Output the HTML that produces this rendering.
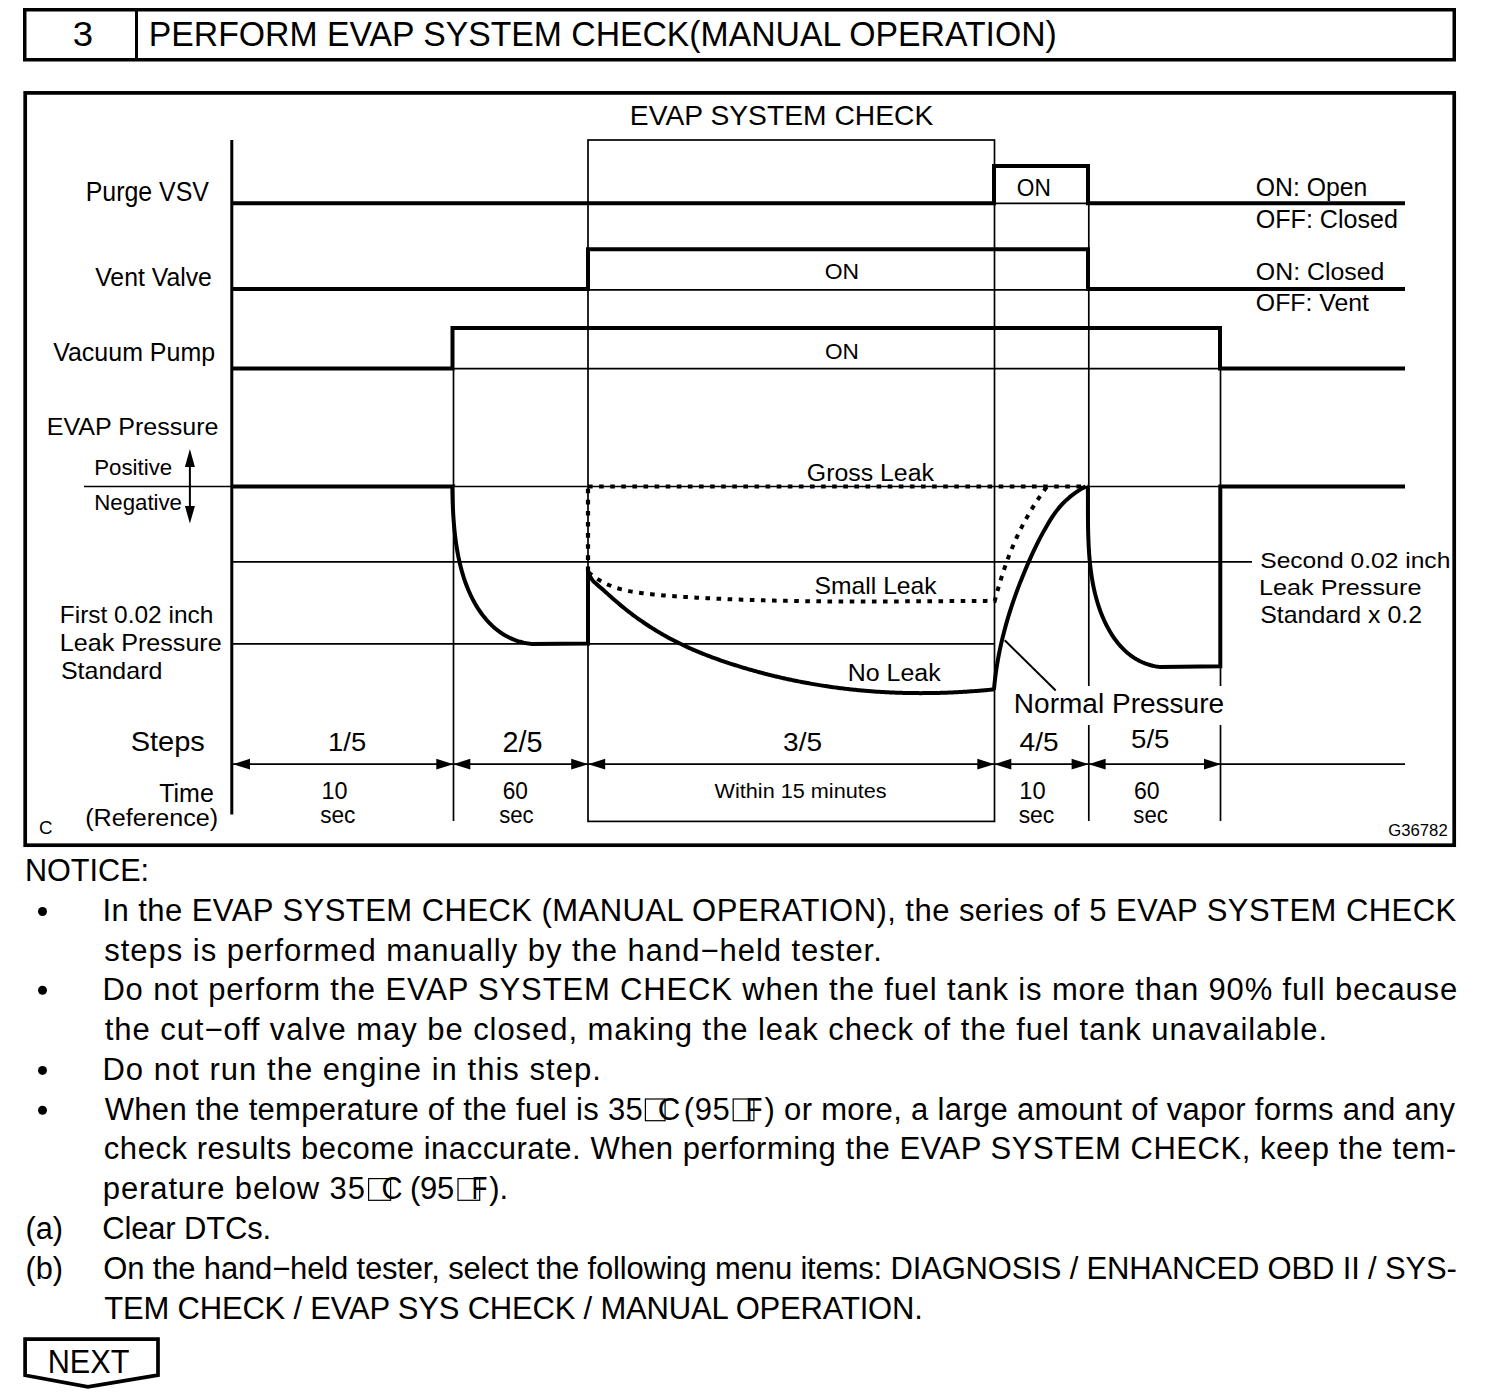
<!DOCTYPE html>
<html><head><meta charset="utf-8"><style>
html,body{margin:0;padding:0;background:#fff;width:1504px;height:1398px;overflow:hidden}
svg{position:absolute;left:0;top:0}
text{font-family:"Liberation Sans",sans-serif;fill:#000}
</style></head><body>
<svg width="1504" height="1398" viewBox="0 0 1504 1398">
<g stroke="#000" fill="none" stroke-linecap="butt">
<rect x="24.75" y="9.75" width="1429.5" height="50" stroke-width="3.5" fill="none"/>
<line x1="136.5" y1="9" x2="136.5" y2="60" stroke-width="3"/>
<rect x="25.2" y="92.9" width="1429" height="752.3" stroke-width="3.7" fill="none"/>
<line x1="231.8" y1="140" x2="231.8" y2="814.5" stroke-width="3"/>
<line x1="994" y1="203.3" x2="1088" y2="203.3" stroke-width="1.7"/>
<line x1="588" y1="289.8" x2="1088" y2="289.8" stroke-width="1.7"/>
<line x1="453" y1="368.6" x2="1220" y2="368.6" stroke-width="1.7"/>
<rect x="588" y="140" width="406.5" height="681.4" stroke-width="1.7" fill="none"/>
<line x1="453.5" y1="368" x2="453.5" y2="821" stroke-width="1.7"/>
<line x1="1088.8" y1="203" x2="1088.8" y2="686" stroke-width="1.7"/>
<line x1="1088.8" y1="725" x2="1088.8" y2="821" stroke-width="1.7"/>
<line x1="1220.5" y1="368" x2="1220.5" y2="686" stroke-width="1.7"/>
<line x1="1220.5" y1="725" x2="1220.5" y2="821" stroke-width="1.7"/>
<polyline points="233,203.3 994,203.3 994,166 1088,166 1088,203.3 1405,203.3" stroke-width="4" fill="none" stroke-linejoin="miter"/>
<polyline points="233,289 588,289 588,249.2 1088,249.2 1088,289 1405,289" stroke-width="4" fill="none"/>
<polyline points="233,368.6 452.5,368.6 452.5,328 1220,328 1220,368.6 1405,368.6" stroke-width="4" fill="none"/>
<line x1="84" y1="486.5" x2="1220" y2="486.5" stroke-width="1.7"/>
<line x1="233" y1="561.8" x2="1252" y2="561.8" stroke-width="1.7"/>
<line x1="233" y1="643.8" x2="994" y2="643.8" stroke-width="1.7"/>
<path d="M 233 486.5 L 452.4 486.5 L 452.35 486.61 L 452.37 488.10 L 452.39 489.60 L 452.42 491.12 L 452.44 492.64 L 452.47 494.16 L 452.51 495.70 L 452.55 497.25 L 452.59 498.80 L 452.63 500.36 L 452.68 501.93 L 452.74 503.51 L 452.80 505.09 L 452.86 506.68 L 452.93 508.27 L 453.00 509.88 L 453.09 511.48 L 453.17 513.09 L 453.26 514.71 L 453.36 516.33 L 453.47 517.96 L 453.58 519.59 L 453.70 521.22 L 453.83 522.86 L 453.96 524.50 L 454.10 526.14 L 454.25 527.78 L 454.41 529.43 L 454.58 531.08 L 454.75 532.73 L 454.93 534.38 L 455.13 536.03 L 455.33 537.69 L 455.54 539.34 L 455.76 540.99 L 455.99 542.65 L 456.23 544.30 L 456.48 545.95 L 456.74 547.60 L 457.01 549.25 L 457.30 550.90 L 457.59 552.54 L 457.90 554.19 L 458.21 555.82 L 458.54 557.46 L 458.89 559.09 L 459.24 560.72 L 459.61 562.35 L 459.99 563.97 L 460.38 565.59 L 460.78 567.20 L 461.20 568.81 L 461.63 570.41 L 462.08 572.00 L 462.54 573.59 L 463.02 575.17 L 463.51 576.75 L 464.01 578.32 L 464.53 579.88 L 465.06 581.44 L 465.61 582.98 L 466.18 584.52 L 466.76 586.05 L 467.36 587.57 L 467.97 589.08 L 468.60 590.58 L 469.25 592.07 L 469.91 593.55 L 470.59 595.03 L 471.29 596.49 L 472.01 597.94 L 472.74 599.37 L 473.49 600.80 L 474.26 602.21 L 475.05 603.62 L 475.86 605.01 L 476.69 606.38 L 477.53 607.75 L 478.40 609.09 L 479.28 610.43 L 480.19 611.75 L 481.11 613.05 L 482.06 614.33 L 483.02 615.60 L 484.00 616.85 L 485.01 618.08 L 486.03 619.29 L 487.08 620.49 L 488.14 621.66 L 489.23 622.80 L 490.34 623.93 L 491.47 625.04 L 492.62 626.12 L 493.79 627.17 L 494.99 628.20 L 496.20 629.21 L 497.44 630.19 L 498.70 631.14 L 499.98 632.07 L 501.29 632.97 L 502.62 633.84 L 503.97 634.68 L 505.34 635.49 L 506.74 636.27 L 508.16 637.01 L 509.60 637.73 L 511.07 638.41 L 512.56 639.06 L 514.07 639.68 L 515.61 640.26 L 517.17 640.81 L 518.76 641.32 L 520.37 641.79 L 522.00 642.23 L 523.66 642.63 L 525.35 642.99 L 527.06 643.31 L 528.79 643.59 L 530.55 643.83 L 532.34 644.03 L 588 643.4 L 588 571" stroke-width="4" fill="none"/>
<path d="M 588.40 571.93 L 589.90 575.91 L 591.40 578.77 L 592.90 580.80 L 594.40 582.30 L 595.90 583.58 L 597.40 584.86 L 598.90 586.16 L 600.40 587.46 L 601.90 588.78 L 603.40 590.11 L 604.90 591.45 L 606.40 592.79 L 607.90 594.13 L 609.40 595.47 L 610.90 596.81 L 612.40 598.14 L 613.90 599.46 L 615.40 600.77 L 616.90 602.07 L 618.40 603.35 L 619.90 604.62 L 621.40 605.86 L 622.90 607.10 L 624.40 608.31 L 625.90 609.51 L 627.40 610.70 L 628.90 611.87 L 630.40 613.02 L 631.90 614.16 L 633.40 615.28 L 634.90 616.39 L 636.40 617.49 L 637.90 618.57 L 639.40 619.63 L 640.90 620.69 L 642.40 621.72 L 643.90 622.75 L 645.40 623.76 L 646.90 624.75 L 648.40 625.74 L 649.90 626.71 L 651.40 627.66 L 652.90 628.61 L 654.40 629.54 L 655.90 630.46 L 657.40 631.37 L 658.90 632.26 L 660.40 633.14 L 661.90 634.01 L 663.40 634.87 L 664.90 635.72 L 666.40 636.55 L 667.90 637.38 L 669.40 638.19 L 670.90 638.99 L 672.40 639.78 L 673.90 640.56 L 675.40 641.33 L 676.90 642.09 L 678.40 642.84 L 679.90 643.58 L 681.40 644.31 L 682.90 645.03 L 684.40 645.73 L 685.90 646.43 L 687.40 647.13 L 688.90 647.81 L 690.40 648.48 L 691.90 649.14 L 693.40 649.80 L 694.90 650.44 L 696.40 651.08 L 697.90 651.71 L 699.40 652.33 L 700.90 652.95 L 702.40 653.55 L 703.90 654.15 L 705.40 654.74 L 706.90 655.33 L 708.40 655.90 L 709.90 656.47 L 711.40 657.04 L 712.90 657.59 L 714.40 658.14 L 715.90 658.69 L 717.40 659.22 L 718.90 659.75 L 720.40 660.28 L 721.90 660.80 L 723.40 661.31 L 724.90 661.82 L 726.40 662.32 L 727.90 662.82 L 729.40 663.31 L 730.90 663.80 L 732.40 664.29 L 733.90 664.77 L 735.40 665.24 L 736.90 665.71 L 738.40 666.18 L 739.90 666.64 L 741.40 667.09 L 742.90 667.55 L 744.40 668.00 L 745.90 668.44 L 747.40 668.88 L 748.90 669.32 L 750.40 669.75 L 751.90 670.18 L 753.40 670.60 L 754.90 671.02 L 756.40 671.43 L 757.90 671.84 L 759.40 672.25 L 760.90 672.65 L 762.40 673.05 L 763.90 673.44 L 765.40 673.83 L 766.90 674.22 L 768.40 674.60 L 769.90 674.98 L 771.40 675.35 L 772.90 675.72 L 774.40 676.08 L 775.90 676.44 L 777.40 676.80 L 778.90 677.15 L 780.40 677.50 L 781.90 677.84 L 783.40 678.18 L 784.90 678.52 L 786.40 678.85 L 787.90 679.18 L 789.40 679.50 L 790.90 679.82 L 792.40 680.14 L 793.90 680.45 L 795.40 680.75 L 796.90 681.06 L 798.40 681.36 L 799.90 681.65 L 801.40 681.95 L 802.90 682.23 L 804.40 682.52 L 805.90 682.80 L 807.40 683.07 L 808.90 683.34 L 810.40 683.61 L 811.90 683.88 L 813.40 684.14 L 814.90 684.39 L 816.40 684.64 L 817.90 684.89 L 819.40 685.14 L 820.90 685.38 L 822.40 685.61 L 823.90 685.85 L 825.40 686.08 L 826.90 686.30 L 828.40 686.52 L 829.90 686.74 L 831.40 686.95 L 832.90 687.16 L 834.40 687.37 L 835.90 687.57 L 837.40 687.77 L 838.90 687.97 L 840.40 688.16 L 841.90 688.34 L 843.40 688.53 L 844.90 688.71 L 846.40 688.88 L 847.90 689.06 L 849.40 689.23 L 850.90 689.39 L 852.40 689.55 L 853.90 689.71 L 855.40 689.86 L 856.90 690.01 L 858.40 690.16 L 859.90 690.30 L 861.40 690.44 L 862.90 690.58 L 864.40 690.71 L 865.90 690.84 L 867.40 690.96 L 868.90 691.09 L 870.40 691.20 L 871.90 691.32 L 873.40 691.43 L 874.90 691.53 L 876.40 691.64 L 877.90 691.74 L 879.40 691.83 L 880.90 691.93 L 882.40 692.02 L 883.90 692.10 L 885.40 692.18 L 886.90 692.26 L 888.40 692.34 L 889.90 692.41 L 891.40 692.48 L 892.90 692.54 L 894.40 692.60 L 895.90 692.66 L 897.40 692.72 L 898.90 692.77 L 900.40 692.81 L 901.90 692.86 L 903.40 692.90 L 904.90 692.94 L 906.40 692.97 L 907.90 693.00 L 909.40 693.03 L 910.90 693.05 L 912.40 693.07 L 913.90 693.09 L 915.40 693.10 L 916.90 693.11 L 918.40 693.12 L 919.90 693.13 L 921.40 693.13 L 922.90 693.12 L 924.40 693.12 L 925.90 693.11 L 927.40 693.10 L 928.90 693.08 L 930.40 693.06 L 931.90 693.04 L 933.40 693.01 L 934.90 692.98 L 936.40 692.95 L 937.90 692.92 L 939.40 692.88 L 940.90 692.84 L 942.40 692.79 L 943.90 692.74 L 945.40 692.69 L 946.90 692.64 L 948.40 692.58 L 949.90 692.52 L 951.40 692.46 L 952.90 692.39 L 954.40 692.32 L 955.90 692.25 L 957.40 692.17 L 958.90 692.09 L 960.40 692.01 L 961.90 691.92 L 963.40 691.83 L 964.90 691.74 L 966.40 691.65 L 967.90 691.55 L 969.40 691.45 L 970.90 691.34 L 972.40 691.24 L 973.90 691.13 L 975.40 691.01 L 976.90 690.90 L 978.40 690.78 L 979.90 690.66 L 981.40 690.53 L 982.90 690.41 L 984.40 690.28 L 985.90 690.14 L 987.40 690.00 L 988.90 689.87 L 990.40 689.72 L 991.90 689.58 L 993.40 689.43 L 993.90 689.38 L 993.93 689.90 L 994.02 688.90 L 994.16 687.40 L 994.30 685.90 L 994.45 684.40 L 994.60 682.90 L 994.77 681.40 L 994.94 679.90 L 995.12 678.40 L 995.30 676.90 L 995.49 675.40 L 995.69 673.90 L 995.90 672.40 L 996.11 670.90 L 996.33 669.40 L 996.56 667.90 L 996.80 666.40 L 997.04 664.90 L 997.29 663.40 L 997.54 661.90 L 997.80 660.40 L 998.07 658.90 L 998.35 657.40 L 998.63 655.90 L 998.92 654.40 L 999.22 652.90 L 999.52 651.40 L 999.83 649.90 L 1000.14 648.40 L 1000.46 646.90 L 1000.79 645.40 L 1001.13 643.90 L 1001.47 642.40 L 1001.82 640.90 L 1002.18 639.40 L 1002.54 637.90 L 1002.90 636.40 L 1003.28 634.90 L 1003.66 633.40 L 1004.05 631.90 L 1004.44 630.40 L 1004.84 628.90 L 1005.25 627.40 L 1005.66 625.90 L 1006.08 624.40 L 1006.50 622.90 L 1006.93 621.40 L 1007.37 619.90 L 1007.81 618.40 L 1008.26 616.90 L 1008.72 615.40 L 1009.18 613.90 L 1009.65 612.40 L 1010.12 610.90 L 1010.60 609.40 L 1011.08 607.90 L 1011.58 606.40 L 1012.07 604.90 L 1012.58 603.40 L 1013.09 601.90 L 1013.60 600.40 L 1014.12 598.90 L 1014.65 597.40 L 1015.18 595.90 L 1015.72 594.40 L 1016.26 592.90 L 1016.81 591.40 L 1017.36 589.90 L 1017.92 588.40 L 1018.49 586.90 L 1019.06 585.40 L 1019.64 583.90 L 1020.22 582.40 L 1020.81 580.90 L 1021.40 579.40 L 1022.00 577.90 L 1022.60 576.40 L 1023.21 574.90 L 1023.83 573.40 L 1024.45 571.90 L 1025.07 570.40 L 1025.71 568.90 L 1026.34 567.40 L 1026.98 565.90 L 1027.63 564.40 L 1028.28 562.90 L 1028.94 561.40 L 1029.60 559.90 L 1030.27 558.40 L 1030.94 556.90 L 1031.63 555.40 L 1032.31 553.90 L 1033.01 552.40 L 1033.71 550.90 L 1034.42 549.40 L 1035.14 547.90 L 1035.87 546.40 L 1036.60 544.90 L 1037.34 543.40 L 1038.10 541.90 L 1038.86 540.40 L 1039.63 538.90 L 1040.41 537.40 L 1041.21 535.90 L 1042.01 534.40 L 1042.82 532.90 L 1043.65 531.40 L 1044.48 529.90 L 1045.33 528.40 L 1046.19 526.90 L 1047.06 525.40 L 1047.94 523.90 L 1048.84 522.40 L 1049.75 520.90 L 1050.68 519.40 L 1051.64 517.90 L 1052.62 516.40 L 1053.63 514.90 L 1054.68 513.40 L 1055.77 511.90 L 1056.91 510.40 L 1058.09 508.90 L 1059.33 507.40 L 1060.63 505.90 L 1062.00 504.40 L 1063.43 502.90 L 1064.94 501.40 L 1066.53 499.90 L 1068.21 498.40 L 1069.98 496.90 L 1071.86 495.40 L 1073.85 493.90 L 1075.96 492.40 L 1078.19 490.90 L 1080.55 489.40 L 1083.05 487.90 L 1085.70 486.40" stroke-width="4" fill="none"/>
<path d="M 1087.84 486.18 L 1087.86 487.88 L 1087.88 489.57 L 1087.89 491.28 L 1087.90 492.99 L 1087.91 494.71 L 1087.91 496.44 L 1087.92 498.17 L 1087.92 499.91 L 1087.92 501.66 L 1087.92 503.41 L 1087.93 505.16 L 1087.93 506.92 L 1087.93 508.69 L 1087.93 510.46 L 1087.94 512.23 L 1087.94 514.01 L 1087.95 515.79 L 1087.96 517.58 L 1087.97 519.37 L 1087.99 521.16 L 1088.01 522.96 L 1088.03 524.76 L 1088.06 526.56 L 1088.09 528.36 L 1088.12 530.17 L 1088.16 531.98 L 1088.21 533.79 L 1088.26 535.60 L 1088.32 537.41 L 1088.38 539.23 L 1088.45 541.04 L 1088.53 542.86 L 1088.61 544.68 L 1088.70 546.49 L 1088.80 548.31 L 1088.91 550.13 L 1089.03 551.95 L 1089.15 553.76 L 1089.29 555.58 L 1089.44 557.39 L 1089.59 559.21 L 1089.76 561.02 L 1089.93 562.83 L 1090.12 564.64 L 1090.32 566.44 L 1090.53 568.25 L 1090.76 570.05 L 1090.99 571.85 L 1091.24 573.64 L 1091.50 575.43 L 1091.78 577.22 L 1092.07 579.01 L 1092.37 580.79 L 1092.69 582.57 L 1093.02 584.34 L 1093.37 586.11 L 1093.74 587.87 L 1094.12 589.63 L 1094.51 591.38 L 1094.93 593.13 L 1095.36 594.87 L 1095.80 596.61 L 1096.27 598.34 L 1096.75 600.06 L 1097.25 601.78 L 1097.77 603.49 L 1098.31 605.20 L 1098.87 606.89 L 1099.45 608.58 L 1100.04 610.27 L 1100.66 611.94 L 1101.30 613.61 L 1101.96 615.27 L 1102.64 616.91 L 1103.35 618.56 L 1104.07 620.19 L 1104.82 621.81 L 1105.59 623.42 L 1106.38 625.02 L 1107.20 626.61 L 1108.04 628.18 L 1108.91 629.74 L 1109.79 631.29 L 1110.71 632.81 L 1111.64 634.32 L 1112.61 635.81 L 1113.60 637.28 L 1114.61 638.73 L 1115.65 640.15 L 1116.71 641.55 L 1117.80 642.93 L 1118.92 644.28 L 1120.07 645.60 L 1121.24 646.90 L 1122.44 648.17 L 1123.67 649.40 L 1124.93 650.61 L 1126.21 651.78 L 1127.52 652.92 L 1128.86 654.03 L 1130.24 655.10 L 1131.64 656.13 L 1133.07 657.12 L 1134.53 658.08 L 1136.02 659.00 L 1137.54 659.87 L 1139.09 660.71 L 1140.68 661.50 L 1142.29 662.24 L 1143.94 662.95 L 1145.62 663.60 L 1147.33 664.21 L 1149.07 664.76 L 1150.85 665.27 L 1152.66 665.73 L 1154.50 666.14 L 1156.38 666.49 L 1158.29 666.79 L 1160.24 667.03 L 1220.3 666.2 L 1220.3 486.5 L 1405 486.5" stroke-width="4" fill="none"/>
<line x1="588" y1="571" x2="588" y2="486.5" stroke-width="4.2" stroke-dasharray="4.6 6.5"/>
<line x1="588" y1="486.5" x2="1088" y2="486.5" stroke-width="4.2" stroke-dasharray="4.6 6.5"/>
<path d="M 588.40 572.26 L 589.90 573.49 L 591.40 574.68 L 592.90 575.81 L 594.40 576.89 L 595.90 577.92 L 597.40 578.90 L 598.90 579.84 L 600.40 580.74 L 601.90 581.59 L 603.40 582.40 L 604.90 583.17 L 606.40 583.90 L 607.90 584.59 L 609.40 585.25 L 610.90 585.87 L 612.40 586.46 L 613.90 587.02 L 615.40 587.54 L 616.90 588.04 L 618.40 588.50 L 619.90 588.94 L 621.40 589.36 L 622.90 589.75 L 624.40 590.11 L 625.90 590.46 L 627.40 590.78 L 628.90 591.09 L 630.40 591.38 L 631.90 591.65 L 633.40 591.90 L 634.90 592.14 L 636.40 592.37 L 637.90 592.59 L 639.40 592.80 L 640.90 593.00 L 642.40 593.19 L 643.90 593.38 L 645.40 593.56 L 646.90 593.74 L 648.40 593.91 L 649.90 594.08 L 651.40 594.24 L 652.90 594.40 L 654.40 594.55 L 655.90 594.70 L 657.40 594.84 L 658.90 594.99 L 660.40 595.12 L 661.90 595.26 L 663.40 595.39 L 664.90 595.51 L 666.40 595.64 L 667.90 595.76 L 669.40 595.87 L 670.90 595.99 L 672.40 596.10 L 673.90 596.21 L 675.40 596.32 L 676.90 596.42 L 678.40 596.52 L 679.90 596.62 L 681.40 596.72 L 682.90 596.82 L 684.40 596.91 L 685.90 597.01 L 687.40 597.10 L 688.90 597.19 L 690.40 597.28 L 691.90 597.37 L 693.40 597.45 L 694.90 597.54 L 696.40 597.63 L 697.90 597.71 L 699.40 597.79 L 700.90 597.87 L 702.40 597.96 L 703.90 598.03 L 705.40 598.11 L 706.90 598.19 L 708.40 598.27 L 709.90 598.34 L 711.40 598.41 L 712.90 598.49 L 714.40 598.56 L 715.90 598.63 L 717.40 598.70 L 718.90 598.77 L 720.40 598.84 L 721.90 598.90 L 723.40 598.97 L 724.90 599.03 L 726.40 599.09 L 727.90 599.16 L 729.40 599.22 L 730.90 599.28 L 732.40 599.34 L 733.90 599.40 L 735.40 599.45 L 736.90 599.51 L 738.40 599.57 L 739.90 599.62 L 741.40 599.67 L 742.90 599.73 L 744.40 599.78 L 745.90 599.83 L 747.40 599.88 L 748.90 599.93 L 750.40 599.97 L 751.90 600.02 L 753.40 600.07 L 754.90 600.11 L 756.40 600.16 L 757.90 600.20 L 759.40 600.24 L 760.90 600.28 L 762.40 600.33 L 763.90 600.37 L 765.40 600.40 L 766.90 600.44 L 768.40 600.48 L 769.90 600.52 L 771.40 600.55 L 772.90 600.59 L 774.40 600.62 L 775.90 600.66 L 777.40 600.69 L 778.90 600.72 L 780.40 600.75 L 781.90 600.78 L 783.40 600.81 L 784.90 600.84 L 786.40 600.87 L 787.90 600.90 L 789.40 600.92 L 790.90 600.95 L 792.40 600.97 L 793.90 601.00 L 795.40 601.02 L 796.90 601.05 L 798.40 601.07 L 799.90 601.09 L 801.40 601.11 L 802.90 601.13 L 804.40 601.15 L 805.90 601.17 L 807.40 601.19 L 808.90 601.21 L 810.40 601.22 L 811.90 601.24 L 813.40 601.26 L 814.90 601.27 L 816.40 601.29 L 817.90 601.30 L 819.40 601.32 L 820.90 601.33 L 822.40 601.34 L 823.90 601.35 L 825.40 601.36 L 826.90 601.38 L 828.40 601.39 L 829.90 601.40 L 831.40 601.40 L 832.90 601.41 L 834.40 601.42 L 835.90 601.43 L 837.40 601.44 L 838.90 601.44 L 840.40 601.45 L 841.90 601.46 L 843.40 601.46 L 844.90 601.47 L 846.40 601.47 L 847.90 601.47 L 849.40 601.48 L 850.90 601.48 L 852.40 601.48 L 853.90 601.49 L 855.40 601.49 L 856.90 601.49 L 858.40 601.49 L 859.90 601.49 L 861.40 601.49 L 862.90 601.49 L 864.40 601.49 L 865.90 601.49 L 867.40 601.49 L 868.90 601.49 L 870.40 601.48 L 871.90 601.48 L 873.40 601.48 L 874.90 601.48 L 876.40 601.47 L 877.90 601.47 L 879.40 601.47 L 880.90 601.46 L 882.40 601.46 L 883.90 601.45 L 885.40 601.45 L 886.90 601.44 L 888.40 601.44 L 889.90 601.43 L 891.40 601.43 L 892.90 601.42 L 894.40 601.41 L 895.90 601.41 L 897.40 601.40 L 898.90 601.39 L 900.40 601.39 L 901.90 601.38 L 903.40 601.37 L 904.90 601.36 L 906.40 601.36 L 907.90 601.35 L 909.40 601.34 L 910.90 601.33 L 912.40 601.32 L 913.90 601.31 L 915.40 601.30 L 916.90 601.30 L 918.40 601.29 L 919.90 601.28 L 921.40 601.27 L 922.90 601.26 L 924.40 601.25 L 925.90 601.24 L 927.40 601.23 L 928.90 601.22 L 930.40 601.21 L 931.90 601.20 L 933.40 601.19 L 934.90 601.18 L 936.40 601.17 L 937.90 601.16 L 939.40 601.15 L 940.90 601.14 L 942.40 601.13 L 943.90 601.12 L 945.40 601.11 L 946.90 601.10 L 948.40 601.09 L 949.90 601.08 L 951.40 601.07 L 952.90 601.06 L 954.40 601.05 L 955.90 601.04 L 957.40 601.03 L 958.90 601.02 L 960.40 601.02 L 961.90 601.01 L 963.40 601.00 L 964.90 600.99 L 966.40 600.98 L 967.90 600.97 L 969.40 600.96 L 970.90 600.95 L 972.40 600.94 L 973.90 600.94 L 975.40 600.93 L 976.90 600.92 L 978.40 600.91 L 979.90 600.90 L 981.40 600.90 L 982.90 600.89 L 984.40 600.88 L 985.90 600.88 L 987.40 600.87 L 988.90 600.86 L 990.40 600.86 L 991.90 600.85 L 993.40 600.85 L 994.00 600.84 L 994.71 601.00 L 994.87 600.40 L 995.27 598.90 L 995.68 597.40 L 996.09 595.90 L 996.50 594.40 L 996.92 592.90 L 997.34 591.40 L 997.76 589.90 L 998.19 588.40 L 998.62 586.90 L 999.06 585.40 L 999.51 583.90 L 999.96 582.40 L 1000.41 580.90 L 1000.87 579.40 L 1001.34 577.90 L 1001.81 576.40 L 1002.29 574.90 L 1002.78 573.40 L 1003.27 571.90 L 1003.77 570.40 L 1004.27 568.90 L 1004.78 567.40 L 1005.30 565.90 L 1005.83 564.40 L 1006.36 562.90 L 1006.90 561.40 L 1007.45 559.90 L 1008.00 558.40 L 1008.57 556.90 L 1009.14 555.40 L 1009.72 553.90 L 1010.31 552.40 L 1010.91 550.90 L 1011.52 549.40 L 1012.13 547.90 L 1012.76 546.40 L 1013.39 544.90 L 1014.04 543.40 L 1014.69 541.90 L 1015.35 540.40 L 1016.03 538.90 L 1016.71 537.40 L 1017.41 535.90 L 1018.11 534.40 L 1018.83 532.90 L 1019.55 531.40 L 1020.29 529.90 L 1021.04 528.40 L 1021.80 526.90 L 1022.57 525.40 L 1023.35 523.90 L 1024.15 522.40 L 1024.95 520.90 L 1025.77 519.40 L 1026.60 517.90 L 1027.45 516.40 L 1028.30 514.90 L 1029.17 513.40 L 1030.05 511.90 L 1030.95 510.40 L 1031.86 508.90 L 1032.78 507.40 L 1033.72 505.90 L 1034.67 504.40 L 1035.63 502.90 L 1036.61 501.40 L 1037.60 499.90 L 1038.61 498.40 L 1039.63 496.90 L 1040.66 495.40 L 1041.71 493.90 L 1042.78 492.40 L 1043.86 490.90 L 1044.96 489.40 L 1046.07 487.90 L 1047.20 486.40" stroke-width="4" fill="none" stroke-dasharray="4.6 6.5"/>
<line x1="1004.7" y1="640.3" x2="1055.7" y2="690.5" stroke-width="2"/>
<line x1="189.9" y1="460" x2="189.9" y2="512" stroke-width="2"/>
<polygon points="189.9,449 184.9,467 194.9,467" fill="#000" stroke="none"/>
<polygon points="189.9,523.5 184.9,506 194.9,506" fill="#000" stroke="none"/>
<line x1="233" y1="764.2" x2="1405" y2="764.2" stroke-width="1.7"/>
<polygon points="233,764.2 250,758.8 250,769.6" fill="#000" stroke="none"/>
<polygon points="453.3,764.2 436.3,758.8 436.3,769.6" fill="#000" stroke="none"/>
<polygon points="453.3,764.2 470.3,758.8 470.3,769.6" fill="#000" stroke="none"/>
<polygon points="588.2,764.2 571.2,758.8 571.2,769.6" fill="#000" stroke="none"/>
<polygon points="588.2,764.2 605.2,758.8 605.2,769.6" fill="#000" stroke="none"/>
<polygon points="994.3,764.2 977.3,758.8 977.3,769.6" fill="#000" stroke="none"/>
<polygon points="994.3,764.2 1011.3,758.8 1011.3,769.6" fill="#000" stroke="none"/>
<polygon points="1088.6,764.2 1071.6,758.8 1071.6,769.6" fill="#000" stroke="none"/>
<polygon points="1088.6,764.2 1105.6,758.8 1105.6,769.6" fill="#000" stroke="none"/>
<polygon points="1221,764.2 1204,758.8 1204,769.6" fill="#000" stroke="none"/>
<path d="M 25.1 1339.1 L 158 1339.1 L 158 1375.2 L 87.9 1386.8 L 25.1 1375.2 Z" stroke-width="3.7" fill="none" stroke-linejoin="miter"/>
<circle cx="42.5" cy="911.5" r="4.5" fill="#000" stroke="none"/>
<circle cx="42.5" cy="990.3" r="4.5" fill="#000" stroke="none"/>
<circle cx="42.5" cy="1070.4" r="4.5" fill="#000" stroke="none"/>
<circle cx="42.5" cy="1110.3" r="4.5" fill="#000" stroke="none"/>
<rect x="645.4" y="1099.0" width="19.7" height="21.7" stroke-width="1.2" fill="none"/>
<rect x="733.2" y="1099.0" width="20.7" height="21.7" stroke-width="1.2" fill="none"/>
<rect x="368.6" y="1178.6" width="22.0" height="21.7" stroke-width="1.2" fill="none"/>
<rect x="458.0" y="1178.6" width="21.7" height="21.7" stroke-width="1.2" fill="none"/>
</g>
<g>
<text x="72.66" y="45.90" font-size="34.78" textLength="20.32" lengthAdjust="spacingAndGlyphs">3</text>
<text x="148.87" y="46.30" font-size="34.64" textLength="907.87" lengthAdjust="spacingAndGlyphs">PERFORM EVAP SYSTEM CHECK(MANUAL OPERATION)</text>
<text x="629.80" y="124.70" font-size="28.55" textLength="303.51" lengthAdjust="spacingAndGlyphs">EVAP SYSTEM CHECK</text>
<text x="85.65" y="200.90" font-size="27.10" textLength="123.33" lengthAdjust="spacingAndGlyphs">Purge VSV</text>
<text x="95.20" y="285.70" font-size="25.07" textLength="116.70" lengthAdjust="spacingAndGlyphs">Vent Valve</text>
<text x="53.20" y="360.60" font-size="25.07" textLength="161.91" lengthAdjust="spacingAndGlyphs">Vacuum Pump</text>
<text x="1016.84" y="195.90" font-size="23.04" textLength="34.01" lengthAdjust="spacingAndGlyphs">ON</text>
<text x="824.73" y="279.00" font-size="22.46" textLength="34.34" lengthAdjust="spacingAndGlyphs">ON</text>
<text x="824.94" y="358.70" font-size="22.32" textLength="33.90" lengthAdjust="spacingAndGlyphs">ON</text>
<text x="1255.84" y="195.70" font-size="25.07" textLength="111.55" lengthAdjust="spacingAndGlyphs">ON: Open</text>
<text x="1255.82" y="227.60" font-size="25.51" textLength="142.08" lengthAdjust="spacingAndGlyphs">OFF: Closed</text>
<text x="1255.83" y="280.00" font-size="23.91" textLength="128.56" lengthAdjust="spacingAndGlyphs">ON: Closed</text>
<text x="1255.84" y="310.80" font-size="24.35" textLength="113.08" lengthAdjust="spacingAndGlyphs">OFF: Vent</text>
<text x="46.75" y="435.30" font-size="24.20" textLength="171.77" lengthAdjust="spacingAndGlyphs">EVAP Pressure</text>
<text x="94.26" y="474.90" font-size="22.90" textLength="77.94" lengthAdjust="spacingAndGlyphs">Positive</text>
<text x="94.26" y="510.00" font-size="22.75" textLength="87.74" lengthAdjust="spacingAndGlyphs">Negative</text>
<text x="59.79" y="623.40" font-size="23.19" textLength="153.58" lengthAdjust="spacingAndGlyphs">First 0.02 inch</text>
<text x="59.74" y="650.70" font-size="24.20" textLength="161.98" lengthAdjust="spacingAndGlyphs">Leak Pressure</text>
<text x="60.92" y="679.30" font-size="23.19" textLength="101.49" lengthAdjust="spacingAndGlyphs">Standard</text>
<text x="806.84" y="480.50" font-size="23.04" textLength="127.08" lengthAdjust="spacingAndGlyphs">Gross Leak</text>
<text x="814.63" y="594.00" font-size="23.19" textLength="121.99" lengthAdjust="spacingAndGlyphs">Small Leak</text>
<text x="847.75" y="681.40" font-size="24.35" textLength="92.86" lengthAdjust="spacingAndGlyphs">No Leak</text>
<text x="1013.81" y="712.50" font-size="26.81" textLength="210.33" lengthAdjust="spacingAndGlyphs">Normal Pressure</text>
<text x="1260.23" y="568.30" font-size="22.17" textLength="190.15" lengthAdjust="spacingAndGlyphs">Second 0.02 inch</text>
<text x="1259.03" y="595.40" font-size="22.32" textLength="162.49" lengthAdjust="spacingAndGlyphs">Leak Pressure</text>
<text x="1260.22" y="623.40" font-size="23.19" textLength="161.79" lengthAdjust="spacingAndGlyphs">Standard x 0.2</text>
<text x="130.69" y="751.00" font-size="26.96" textLength="74.21" lengthAdjust="spacingAndGlyphs">Steps</text>
<text x="328.09" y="751.00" font-size="26.09" textLength="38.02" lengthAdjust="spacingAndGlyphs">1/5</text>
<text x="502.45" y="752.00" font-size="28.99" textLength="40.02" lengthAdjust="spacingAndGlyphs">2/5</text>
<text x="783.12" y="751.00" font-size="26.09" textLength="39.01" lengthAdjust="spacingAndGlyphs">3/5</text>
<text x="1019.56" y="751.00" font-size="26.09" textLength="38.97" lengthAdjust="spacingAndGlyphs">4/5</text>
<text x="1131.04" y="748.40" font-size="25.22" textLength="38.38" lengthAdjust="spacingAndGlyphs">5/5</text>
<text x="159.21" y="801.60" font-size="25.07" textLength="54.60" lengthAdjust="spacingAndGlyphs">Time</text>
<text x="85.22" y="825.50" font-size="23.04" textLength="132.88" lengthAdjust="spacingAndGlyphs">(Reference)</text>
<text x="321.54" y="799.10" font-size="23.04" textLength="26.05" lengthAdjust="spacingAndGlyphs">10</text>
<text x="320.15" y="822.70" font-size="24.00" textLength="35.21" lengthAdjust="spacingAndGlyphs">sec</text>
<text x="502.74" y="799.10" font-size="23.04" textLength="25.23" lengthAdjust="spacingAndGlyphs">60</text>
<text x="499.15" y="822.70" font-size="24.00" textLength="34.49" lengthAdjust="spacingAndGlyphs">sec</text>
<text x="714.60" y="798.40" font-size="20.87" textLength="171.98" lengthAdjust="spacingAndGlyphs">Within 15 minutes</text>
<text x="1019.22" y="799.10" font-size="23.04" textLength="26.37" lengthAdjust="spacingAndGlyphs">10</text>
<text x="1018.64" y="822.70" font-size="24.00" textLength="35.72" lengthAdjust="spacingAndGlyphs">sec</text>
<text x="1133.92" y="799.10" font-size="23.04" textLength="25.66" lengthAdjust="spacingAndGlyphs">60</text>
<text x="1133.35" y="822.70" font-size="24.00" textLength="34.49" lengthAdjust="spacingAndGlyphs">sec</text>
<text x="39.12" y="834.00" font-size="19.28" textLength="13.53" lengthAdjust="spacingAndGlyphs">C</text>
<text x="1388.22" y="835.60" font-size="16.81" textLength="59.46" lengthAdjust="spacingAndGlyphs">G36782</text>
<text x="24.91" y="880.60" font-size="31.30" textLength="124.16" lengthAdjust="spacingAndGlyphs">NOTICE:</text>
<text x="102.38" y="920.90" font-size="31.00" textLength="1353.85" lengthAdjust="spacing">In the EVAP SYSTEM CHECK (MANUAL OPERATION), the series of 5 EVAP SYSTEM CHECK</text>
<text x="104.32" y="960.80" font-size="31.00" textLength="777.48" lengthAdjust="spacing">steps is performed manually by the hand−held tester.</text>
<text x="102.38" y="999.70" font-size="31.00" textLength="1354.78" lengthAdjust="spacing">Do not perform the EVAP SYSTEM CHECK when the fuel tank is more than 90% full because</text>
<text x="104.80" y="1039.90" font-size="31.00" textLength="1222.30" lengthAdjust="spacing">the cut−off valve may be closed, making the leak check of the fuel tank unavailable.</text>
<text x="102.38" y="1079.80" font-size="31.00" textLength="498.42" lengthAdjust="spacing">Do not run the engine in this step.</text>
<text x="104.80" y="1119.70" font-size="31.00" textLength="537.86" lengthAdjust="spacing">When the temperature of the fuel is 35</text>
<text x="683.85" y="1119.70" font-size="31.00" textLength="46.01" lengthAdjust="spacing">(95</text>
<text x="764.50" y="1119.70" font-size="31.00" textLength="690.60" lengthAdjust="spacing">) or more, a large amount of vapor forms and any</text>
<text x="103.83" y="1158.60" font-size="31.00" textLength="1352.29" lengthAdjust="spacing">check results become inaccurate. When performing the EVAP SYSTEM CHECK, keep the tem-</text>
<text x="102.86" y="1198.50" font-size="31.00" textLength="262.09" lengthAdjust="spacing">perature below 35</text>
<text x="410.05" y="1198.50" font-size="31.00" textLength="44.21" lengthAdjust="spacing">(95</text>
<text x="489.30" y="1198.50" font-size="31.00" textLength="18.80" lengthAdjust="spacing">).</text>
<text x="25.46" y="1238.90" font-size="31.00" textLength="37.53" lengthAdjust="spacingAndGlyphs">(a)</text>
<text x="102.25" y="1238.90" font-size="31.00" textLength="168.85" lengthAdjust="spacing">Clear DTCs.</text>
<text x="25.46" y="1279.40" font-size="31.00" textLength="37.53" lengthAdjust="spacingAndGlyphs">(b)</text>
<text x="103.35" y="1279.40" font-size="31.00" textLength="1353.47" lengthAdjust="spacing">On the hand−held tester, select the following menu items: DIAGNOSIS / ENHANCED OBD II / SYS-</text>
<text x="104.32" y="1319.30" font-size="31.00" textLength="818.48" lengthAdjust="spacing">TEM CHECK / EVAP SYS CHECK / MANUAL OPERATION.</text>
<text x="47.70" y="1372.90" font-size="33.19" textLength="81.82" lengthAdjust="spacingAndGlyphs">NEXT</text>
<text x="657.70" y="1119.70" font-size="31.00" textLength="22.60" lengthAdjust="spacingAndGlyphs">C</text>
<text x="745.50" y="1119.70" font-size="31.00" textLength="17.00" lengthAdjust="spacingAndGlyphs">F</text>
<text x="381.60" y="1198.50" font-size="31.00" textLength="21.00" lengthAdjust="spacingAndGlyphs">C</text>
<text x="471.40" y="1198.50" font-size="31.00" textLength="15.90" lengthAdjust="spacingAndGlyphs">F</text>
</g>
</svg>
</body></html>
